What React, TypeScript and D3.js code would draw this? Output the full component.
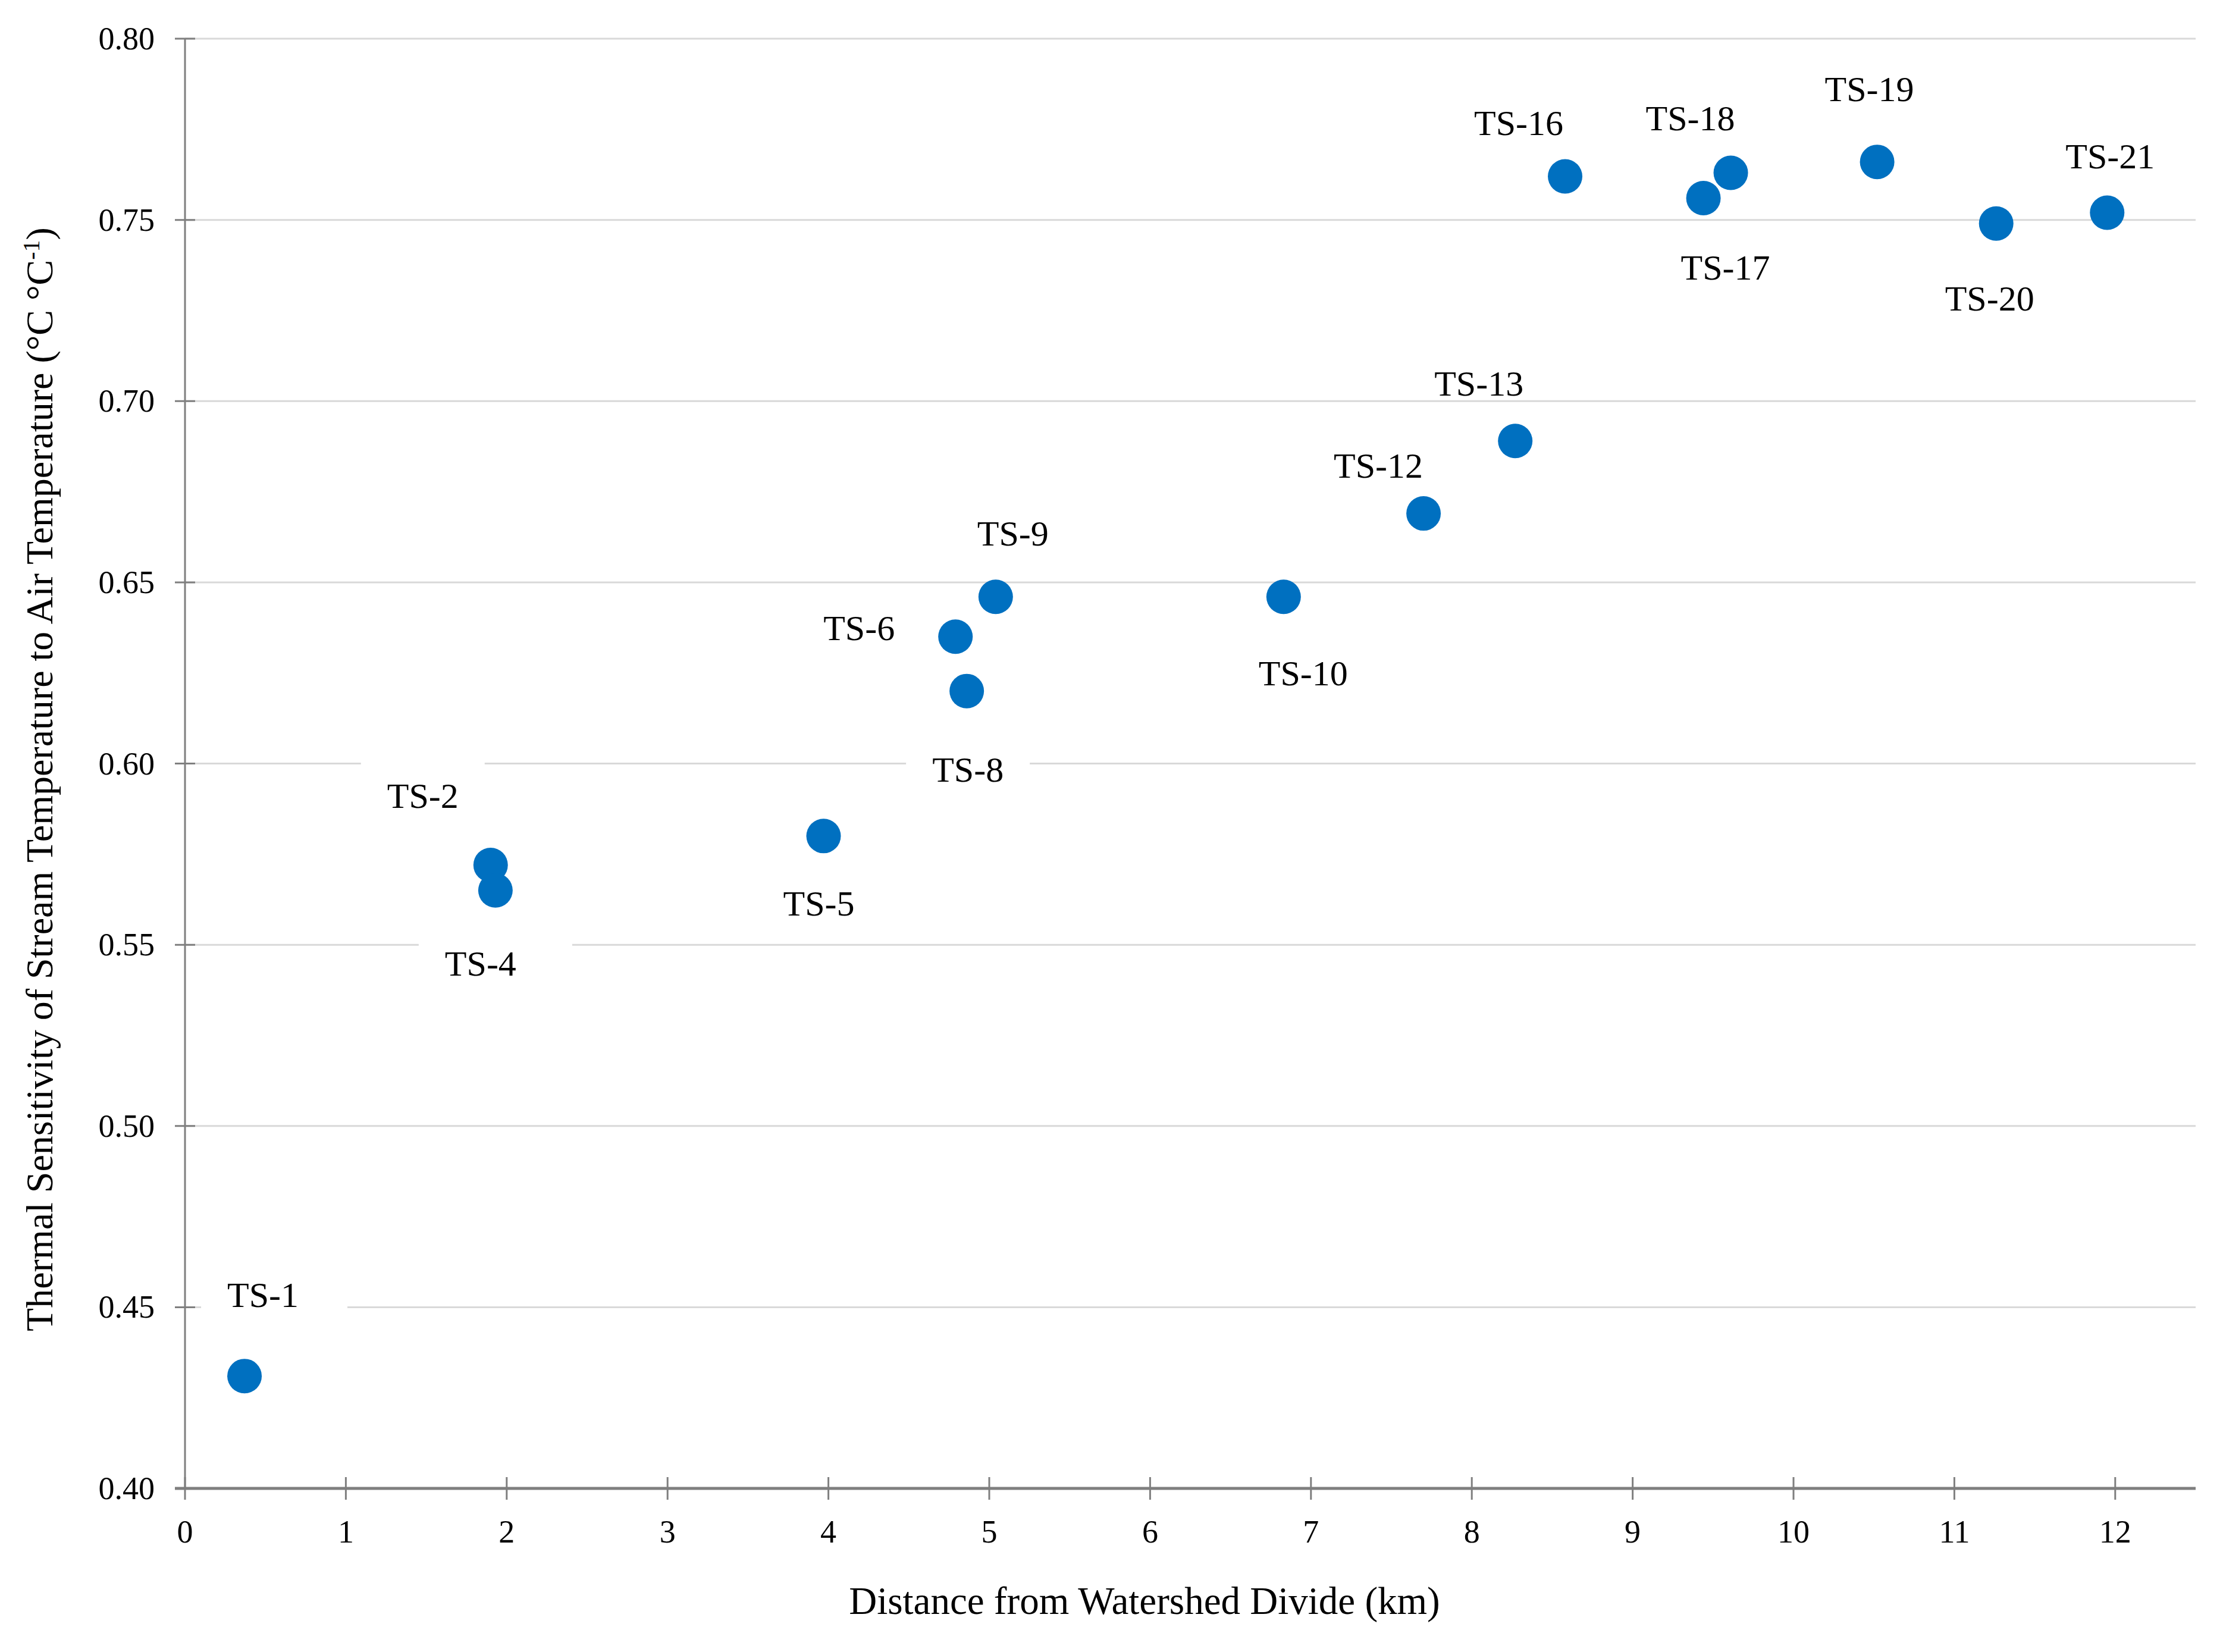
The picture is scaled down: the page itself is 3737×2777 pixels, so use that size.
import React, { useEffect, useRef } from 'react'
import * as d3 from 'd3'

// stream sites and their thermal sensitivity
const sites = ['TS-1', 'TS-2', 'TS-4', 'TS-5', 'TS-6', 'TS-8', 'TS-9', 'TS-10', 'TS-12', 'TS-13', 'TS-16', 'TS-17', 'TS-18', 'TS-19', 'TS-20', 'TS-21']
const distanceKm = [0.37, 1.9, 1.93, 3.97, 4.79, 4.86, 5.04, 6.83, 7.7, 8.27, 8.58, 9.44, 9.61, 10.52, 11.26, 11.95]
const sensitivity = [0.431, 0.572, 0.565, 0.58, 0.635, 0.62, 0.646, 0.646, 0.669, 0.689, 0.762, 0.756, 0.763, 0.766, 0.749, 0.752]

const xTicks = [0, 1, 2, 3, 4, 5, 6, 7, 8, 9, 10, 11, 12]
const yTicks = [0.4, 0.45, 0.5, 0.55, 0.6, 0.65, 0.7, 0.75, 0.8]

// where each data label sits relative to its dot (text centre, baseline)
const labelOffsets: [number, number][] = [
  [31, -116], [-114, -96], [-25, 143], [-8, 134], [-162, 6], [2, 152], [29, -86], [33, 149],
  [-76, -60], [-61, -76], [-78, -70], [37, 137], [-68, -71], [-13, -102], [-11, 146], [5, -74],
]
// some label boxes are bigger than the text
const boxExtraTop: Record<string, number> = { 'TS-2': 70 }
const boxExtraRight: Record<string, number> = { 'TS-1': 38, 'TS-4': 50 }

const W = 3737
const H = 2777
const FONT = '"Liberation Serif", "Times New Roman", serif'

export default function App() {
  const svgRef = useRef<SVGSVGElement | null>(null)

  useEffect(() => {
    const svg = d3.select(svgRef.current!)
    svg.selectAll('*').remove()

    const x = d3.scaleLinear().domain([0, 12.5]).range([311, 3691])
    const y = d3.scaleLinear().domain([0.4, 0.8]).range([2502, 65])

    // gridlines
    svg.append('g')
      .selectAll('line')
      .data(yTicks.filter(t => t > 0.4))
      .enter()
      .append('line')
      .attr('x1', x(0))
      .attr('x2', x(12.5))
      .attr('y1', d => y(d))
      .attr('y2', d => y(d))
      .attr('stroke', '#d9d9d9')
      .attr('stroke-width', 3)

    // data labels with white boxes
    const labels = svg.append('g')
    sites.forEach((name, i) => {
      const cx = x(distanceKm[i]) + labelOffsets[i][0]
      const by = y(sensitivity[i]) + labelOffsets[i][1]
      const box = labels.append('rect').attr('fill', '#ffffff')
      const txt = labels.append('text')
        .attr('x', cx)
        .attr('y', by)
        .attr('text-anchor', 'middle')
        .style('font-family', FONT)
        .style('font-size', '60px')
        .attr('fill', '#000')
        .text(name)
      const bb = (txt.node() as SVGTextElement).getBBox()
      const extra = boxExtraTop[name] || 0
      const extraR = boxExtraRight[name] || 0
      box.attr('x', bb.x - 44)
        .attr('width', bb.width + 88 + extraR)
        .attr('y', by - 66 - extra)
        .attr('height', 70 + extra)
    })

    // y axis
    const yAxis = svg.append('g')
    yAxis.append('line')
      .attr('x1', x(0)).attr('x2', x(0))
      .attr('y1', y(0.8)).attr('y2', y(0.4))
      .attr('stroke', '#7f7f7f').attr('stroke-width', 3)
    yAxis.selectAll('.tick')
      .data(yTicks)
      .enter()
      .append('line')
      .attr('x1', x(0) - 17).attr('x2', x(0) + 17)
      .attr('y1', d => y(d)).attr('y2', d => y(d))
      .attr('stroke', '#7f7f7f').attr('stroke-width', 3)
    yAxis.selectAll('text')
      .data(yTicks)
      .enter()
      .append('text')
      .attr('x', 260)
      .attr('y', d => y(d) + 18)
      .attr('text-anchor', 'end')
      .style('font-family', FONT)
      .style('font-size', '54px')
      .attr('fill', '#000')
      .text(d => d3.format('.2f')(d))

    // x axis
    const xAxis = svg.append('g')
    xAxis.append('line')
      .attr('x1', x(0) - 17).attr('x2', x(12.5))
      .attr('y1', y(0.4)).attr('y2', y(0.4))
      .attr('stroke', '#7f7f7f').attr('stroke-width', 5)
    xAxis.selectAll('.tick')
      .data(xTicks)
      .enter()
      .append('line')
      .attr('x1', d => x(d)).attr('x2', d => x(d))
      .attr('y1', y(0.4) - 19).attr('y2', y(0.4) + 19)
      .attr('stroke', '#7f7f7f').attr('stroke-width', 3)
    xAxis.selectAll('text')
      .data(xTicks)
      .enter()
      .append('text')
      .attr('x', d => x(d))
      .attr('y', 2593)
      .attr('text-anchor', 'middle')
      .style('font-family', FONT)
      .style('font-size', '54px')
      .attr('fill', '#000')
      .text(d => d)

    // axis titles
    svg.append('text')
      .attr('x', 1924)
      .attr('y', 2713)
      .attr('text-anchor', 'middle')
      .style('font-family', FONT)
      .style('font-size', '65px')
      .attr('fill', '#000')
      .text('Distance from Watershed Divide (km)')

    const yTitle = svg.append('text')
      .attr('transform', 'translate(88,1310) rotate(-90)')
      .attr('text-anchor', 'middle')
      .style('font-family', FONT)
      .style('font-size', '64px')
      .attr('fill', '#000')
    yTitle.append('tspan').text('Thermal Sensitivity of Stream Temperature to Air Temperature (°C °C')
    yTitle.append('tspan').attr('dy', -22).style('font-size', '40px').text('-1')
    yTitle.append('tspan').attr('dy', 22).text(')')

    // dots
    svg.append('g')
      .selectAll('circle')
      .data(sites.map((s, i) => ({ s, d: distanceKm[i], v: sensitivity[i] })))
      .enter()
      .append('circle')
      .attr('cx', p => x(p.d))
      .attr('cy', p => y(p.v))
      .attr('r', 29)
      .attr('fill', '#0070c0')
  }, [])

  return (
    <svg
      ref={svgRef}
      width={W}
      height={H}
      style={{ position: 'absolute', left: 0, top: 0, background: '#fff' }}
    />
  )
}
